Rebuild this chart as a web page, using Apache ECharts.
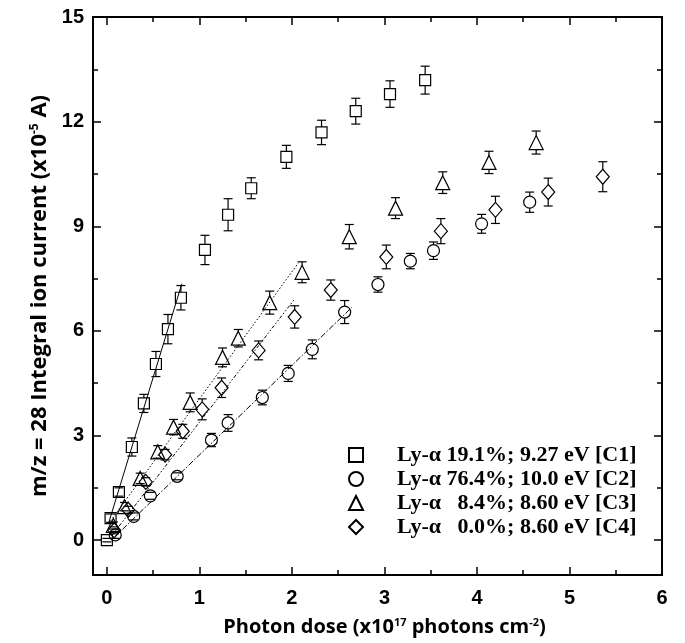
<!DOCTYPE html>
<html>
<head>
<meta charset="utf-8">
<script src="https://cdn.jsdelivr.net/npm/echarts@6/dist/echarts.min.js"></script>
<style>html,body{margin:0;padding:0;background:#fff;}#c{width:685px;height:643px;}</style>
</head>
<body>
<div id="c"></div>
<script>
// ---- data ----
const names = ['Ly-\u03b1 19.1%; 9.27 eV [C1]', 'Ly-\u03b1 76.4%; 10.0 eV [C2]', 'Ly-\u03b1   8.4%; 8.60 eV [C3]', 'Ly-\u03b1   0.0%; 8.60 eV [C4]'];

const xC1 = [0, 0.04, 0.13, 0.27, 0.40, 0.53, 0.66, 0.80, 1.06, 1.31, 1.56, 1.94, 2.32, 2.69, 3.06, 3.44];
const yC1 = [0, 0.63, 1.38, 2.67, 3.92, 5.05, 6.05, 6.95, 8.32, 9.33, 10.09, 10.99, 11.69, 12.30, 12.79, 13.19];
const eC1 = [0.05, 0.12, 0.12, 0.26, 0.26, 0.36, 0.42, 0.35, 0.42, 0.46, 0.30, 0.33, 0.35, 0.37, 0.38, 0.40];

const xC2 = [0.09, 0.29, 0.47, 0.76, 1.13, 1.31, 1.68, 1.96, 2.22, 2.57, 2.93, 3.28, 3.53, 4.05, 4.57];
const yC2 = [0.15, 0.68, 1.27, 1.83, 2.87, 3.36, 4.09, 4.78, 5.47, 6.54, 7.33, 8.00, 8.30, 9.07, 9.69];
const eC2 = [0.10, 0.10, 0.10, 0.10, 0.19, 0.24, 0.21, 0.23, 0.27, 0.33, 0.22, 0.22, 0.25, 0.27, 0.29];

const xC3 = [0.07, 0.19, 0.36, 0.55, 0.72, 0.90, 1.25, 1.42, 1.76, 2.11, 2.62, 3.12, 3.63, 4.13, 4.64];
const yC3 = [0.42, 0.96, 1.77, 2.53, 3.24, 3.95, 5.24, 5.79, 6.81, 7.68, 8.70, 9.52, 10.25, 10.83, 11.40];
const eC3 = [0.10, 0.12, 0.15, 0.18, 0.22, 0.27, 0.27, 0.25, 0.33, 0.30, 0.35, 0.30, 0.31, 0.32, 0.33];

const xC4 = [0.08, 0.23, 0.42, 0.63, 0.82, 1.03, 1.24, 1.64, 2.03, 2.42, 3.02, 3.61, 4.20, 4.77, 5.36];
const yC4 = [0.28, 0.87, 1.67, 2.45, 3.12, 3.75, 4.37, 5.44, 6.40, 7.17, 8.12, 8.86, 9.47, 9.98, 10.42];
const eC4 = [0.10, 0.10, 0.12, 0.15, 0.20, 0.30, 0.28, 0.27, 0.32, 0.29, 0.34, 0.36, 0.39, 0.40, 0.43];

// linear-fit segments: [x start, x end], [y start, y end]
const fitC1x = [0.02, 0.81], fitC1y = [0.50, 7.35];
const fitC2x = [0.08, 2.65], fitC2y = [0.08, 6.68];
const fitC3x = [0.04, 2.07], fitC3y = [0.55, 7.95];
const fitC4x = [0.05, 2.02], fitC4y = [0.12, 6.88];

const xMajor = [0, 1, 2, 3, 4, 5, 6];
const xMinor = [0.5, 1.5, 2.5, 3.5, 4.5, 5.5];
const yMajor = [0, 3, 6, 9, 12, 15];
const yMinor = [1.5, 4.5, 7.5, 10.5, 13.5];

// ---- build ----
const zip = (xs, ys) => xs.map((x, i) => [x, ys[i]]);
const zip3 = (xs, ys, es) => xs.map((x, i) => [x, ys[i], es[i]]);

const symbols = ['rect', 'circle', 'triangle', 'diamond'];
const symSizes = [11, 12, 14, [13, 15]];
const halfH = [5.5, 6, 7, 7.5];
const xs = [xC1, xC2, xC3, xC4], ys = [yC1, yC2, yC3, yC4], es = [eC1, eC2, eC3, eC4];
const fx = [fitC1x, fitC2x, fitC3x, fitC4x], fy = [fitC1y, fitC2y, fitC3y, fitC4y];
const dashes = ['solid', [6, 2, 1.5, 2], [1.5, 2], [3.5, 2, 1.5, 2, 1.5, 2]];

const black = '#000';
function errRender(h) {
  return function (params, api) {
    const x = api.value(0), y = api.value(1), e = api.value(2);
    const c = api.coord([x, y]);
    const t = api.coord([x, y + e]);
    const b = api.coord([x, y - e]);
    const cap = 4.5;
    const st = { stroke: black, lineWidth: 1.2 };
    const ch = [];
    if (c[1] - h > t[1]) ch.push({ type: 'line', shape: { x1: c[0], y1: t[1], x2: c[0], y2: c[1] - h }, style: st });
    if (c[1] + h < b[1]) ch.push({ type: 'line', shape: { x1: c[0], y1: c[1] + h, x2: c[0], y2: b[1] }, style: st });
    ch.push({ type: 'line', shape: { x1: c[0] - cap, y1: t[1], x2: c[0] + cap, y2: t[1] }, style: st });
    ch.push({ type: 'line', shape: { x1: c[0] - cap, y1: b[1], x2: c[0] + cap, y2: b[1] }, style: st });
    return { type: 'group', children: ch };
  };
}

const series = [];
for (let i = 0; i < 4; i++) {
  series.push({
    type: 'custom', name: 'err' + i, renderItem: errRender(halfH[i]),
    data: zip3(xs[i], ys[i], es[i]), encode: { x: 0, y: 1 }, z: 1, silent: true
  });
  series.push({
    type: 'scatter', name: names[i], data: zip(xs[i], ys[i]),
    symbol: symbols[i], symbolSize: symSizes[i], z: 2,
    itemStyle: { color: 'rgba(255,255,255,0)', borderColor: black, borderWidth: 1.2, opacity: 1 }
  });
  series.push({
    type: 'line', name: 'fit' + i, data: zip(fx[i], fy[i]), showSymbol: false, symbol: 'none', z: 3,
    lineStyle: { color: black, width: 1, type: dashes[i] }, silent: true
  });
}

const tickFont = { fontFamily: 'Liberation Sans', fontWeight: 'bold', fontSize: 20, color: black };
const titleFont = 'Open Sans';
const R = -0.15, XMAX = 6, YMIN = -1, YMAX = 15;

function xAx(pos, vals, len, labels) {
  return {
    type: 'value', position: pos, min: R, max: XMAX,
    axisLine: { show: true, onZero: false, lineStyle: { color: black, width: 2 } },
    axisTick: { show: true, inside: true, length: len, customValues: vals, lineStyle: { color: black, width: 1.5 } },
    axisLabel: labels ? Object.assign({ show: true, customValues: xMajor, margin: 13 }, tickFont) : { show: false },
    splitLine: { show: false }
  };
}
function yAx(pos, vals, len, labels) {
  return {
    type: 'value', position: pos, min: YMIN, max: YMAX,
    axisLine: { show: true, onZero: false, lineStyle: { color: black, width: 2 } },
    axisTick: { show: true, inside: true, length: len, customValues: vals, lineStyle: { color: black, width: 1.5 } },
    axisLabel: labels ? Object.assign({ show: true, customValues: yMajor, margin: 9 }, tickFont) : { show: false },
    splitLine: { show: false }
  };
}

function titleStyle(size, supSize, pad) {
  return {
    fontFamily: titleFont, fontWeight: 'bold', fontSize: size, color: black, padding: pad,
    rich: { sup: { fontFamily: titleFont, fontWeight: 'bold', fontSize: supSize, color: black, verticalAlign: 'top', padding: [0, 0, 10, 0] } }
  };
}

const xAxes = [xAx('bottom', xMajor, 8, true), xAx('bottom', xMinor, 5, false), xAx('top', xMajor, 8, false), xAx('top', xMinor, 5, false)];
xAxes[0].name = 'Photon dose (x10{sup|17} photons cm{sup|-2})';
xAxes[0].nameLocation = 'middle';
xAxes[0].nameGap = 42;
xAxes[0].nameTextStyle = titleStyle(20, 11, [0, 0, 0, 14]);
const yAxes = [yAx('left', yMajor, 8, true), yAx('left', yMinor, 5, false), yAx('right', yMajor, 8, false), yAx('right', yMinor, 5, false)];
yAxes[0].name = 'm/z = 28 Integral ion current (x10{sup|-5} A)';
yAxes[0].nameLocation = 'middle';
yAxes[0].nameGap = 40;
yAxes[0].nameTextStyle = titleStyle(22, 12, 0);

const option = {
  animation: false,
  backgroundColor: '#fff',
  grid: { left: 93, right: 23, top: 17, bottom: 68, containLabel: false },
  xAxis: xAxes,
  yAxis: yAxes,
  legend: {
    data: names, orient: 'vertical', left: 343, top: 439,
    itemWidth: 14, itemHeight: 14, itemGap: 2,
    formatter: n => '{g| }' + n,
    textStyle: { fontFamily: 'Liberation Serif', fontWeight: 'bold', fontSize: 22, color: black, rich: { g: { width: 29 } } },
    selectedMode: false
  },
  series: series
};

const chart = echarts.init(document.getElementById('c'), null, { renderer: 'canvas' });
chart.setOption(option);
</script>
</body>
</html>
